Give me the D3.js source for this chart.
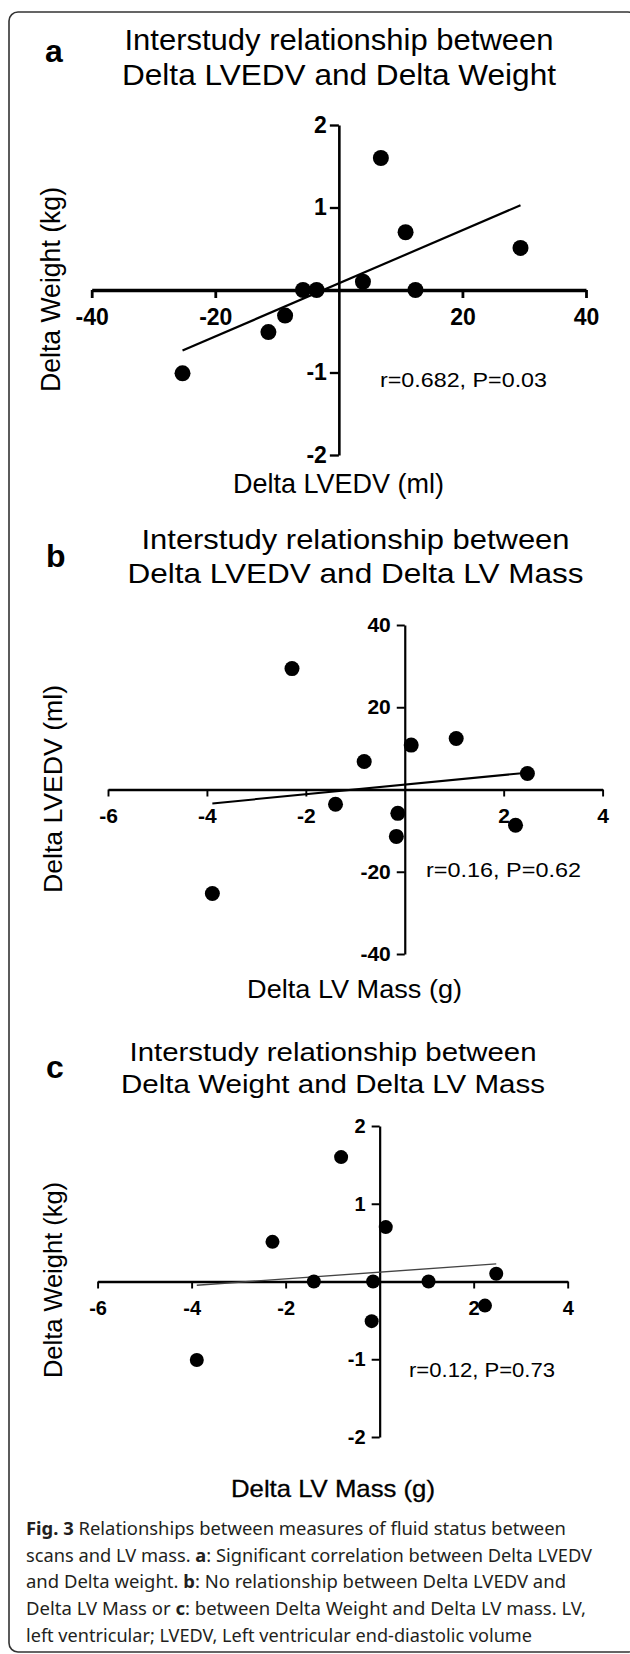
<!DOCTYPE html>
<html>
<head>
<meta charset="utf-8">
<script src="https://cdn.jsdelivr.net/npm/d3@7"></script>
<style>
body { margin: 0; background: #fff; }
svg text { font-family: "Liberation Sans", Arial, sans-serif; fill: #000; }
.caption text { font-family: "Noto Sans", sans-serif; fill: #231f20; }
</style>
</head>
<body>
<svg id="fig"></svg>
<script>
var WIDTH = 630;
var HEIGHT = 1654;

// one entry per subject
var MASS_DELTA   = [-2.28, 0.13, 1.04, -0.82, 2.48, -1.40, -0.14, -0.17, 2.24, -3.89];
var LVEDV_DELTA  = [29.4, 10.8, 12.4, 6.8, 3.9, -3.6, -5.8, -11.4, -8.7, -25.3];
var WEIGHT_DELTA = [0.51, 0.70, 0.0, 1.60, 0.10, 0.0, 0.0, -0.51, -0.31, -1.01];

var LVEDV_TICKS_X = [-40, -20, 20, 40];
var LVEDV_TICKS_Y = [-40, -20, 20, 40];
var WEIGHT_TICKS  = [-2, -1, 1, 2];
var MASS_TICKS    = [-6, -4, -2, 2, 4];

var PANEL_LETTERS = ["a", "b", "c"];
var TITLES = [
    ["Interstudy relationship between", "Delta LVEDV and Delta Weight"],
    ["Interstudy relationship between", "Delta LVEDV and Delta LV Mass"],
    ["Interstudy relationship between", "Delta Weight and Delta LV Mass"]
];
var X_LABELS = ["Delta LVEDV (ml)", "Delta LV Mass (g)", "Delta LV Mass (g)"];
var Y_LABELS = ["Delta Weight (kg)", "Delta LVEDV (ml)", "Delta Weight (kg)"];
var STATS = ["r=0.682, P=0.03", "r=0.16, P=0.62", "r=0.12, P=0.73"];

var svg = d3.select("#fig").attr("width", WIDTH).attr("height", HEIGHT);

// rounded frame round the whole figure
svg.append("rect")
    .attr("x", 9).attr("y", 12)
    .attr("width", 628).attr("height", 1640)
    .attr("rx", 9)
    .attr("fill", "none")
    .attr("stroke", "#333")
    .attr("stroke-width", 1.6);

// layout of each panel (pixels)
var panels = [
    {xs: LVEDV_DELTA, ys: WEIGHT_DELTA, xDomain: [-40, 40], yDomain: [-2, 2],
     xRange: [91.7, 586], yRange: [455, 125], xTicks: LVEDV_TICKS_X, yTicks: WEIGHT_TICKS,
     xAxisW: 3.5, yAxisW: 2.6, tick: 8, tickFont: 23, xLabOff: 35, yLabOff: 12, r: 8, lineW: 2.2,
     letter: [45, 62], title: [339, 50, 85, 30, 429, 434],
     xLab: [338.5, 493, 28, 211], yLab: [60, 289.5, 27, 205], stat: [380, 387, 21, 167]},
    {xs: MASS_DELTA, ys: LVEDV_DELTA, xDomain: [-6, 4], yDomain: [-40, 40],
     xRange: [108, 602.6], yRange: [954, 625], xTicks: MASS_TICKS, yTicks: LVEDV_TICKS_Y,
     xAxisW: 2.4, yAxisW: 2.2, tick: 7, tickFont: 21, xLabOff: 33, yLabOff: 14, r: 7.5, lineW: 2,
     letter: [46, 567], title: [355.5, 549, 583, 28, 428, 456],
     xLab: [354.6, 998, 26, 215], yLab: [62, 789, 26, 208], stat: [426, 877, 21, 155]},
    {xs: MASS_DELTA, ys: WEIGHT_DELTA, xDomain: [-6, 4], yDomain: [-2, 2],
     xRange: [97.6, 567.7], yRange: [1437, 1126], xTicks: MASS_TICKS, yTicks: WEIGHT_TICKS,
     xAxisW: 2.4, yAxisW: 2.2, tick: 7, tickFont: 20, xLabOff: 33, yLabOff: 14, r: 7, lineW: 1.4,
     letter: [46, 1078], title: [333, 1061, 1093, 26, 407, 424],
     xLab: [333, 1497, 24, 204], yLab: [62, 1280, 25, 196], stat: [409, 1377, 21, 146]}
];

var plainNumber = function(d) { return String(d); };

function fit(xs, ys) {
    var mx = d3.mean(xs), my = d3.mean(ys);
    var sxy = d3.sum(xs, function(v, i) { return (v - mx) * (ys[i] - my); });
    var sxx = d3.sum(xs, function(v) { return (v - mx) * (v - mx); });
    var b = sxy / sxx;
    return [b, my - b * mx];
}

panels.forEach(function(p, k) {
    var g = svg.append("g");
    var x = d3.scaleLinear().domain(p.xDomain).range(p.xRange);
    var y = d3.scaleLinear().domain(p.yDomain).range(p.yRange);

    // panel letter
    g.append("text")
        .text(PANEL_LETTERS[k])
        .attr("x", p.letter[0])
        .attr("y", p.letter[1])
        .attr("font-size", 32)
        .attr("font-weight", "bold");

    // two-line title
    TITLES[k].forEach(function(t, i) {
        g.append("text")
            .text(t)
            .attr("x", p.title[0])
            .attr("y", p.title[1 + i])
            .attr("text-anchor", "middle")
            .attr("font-size", p.title[3])
            .attr("textLength", p.title[4 + i])
            .attr("lengthAdjust", "spacingAndGlyphs");
    });

    // x axis through y = 0
    var xa = g.append("g")
        .attr("transform", "translate(0," + y(0) + ")")
        .call(d3.axisBottom(x).tickValues(p.xTicks).tickFormat(plainNumber)
            .tickSize(p.tick).tickSizeOuter(0));
    xa.select(".domain").attr("stroke-width", p.xAxisW);
    xa.selectAll(".tick line").attr("stroke-width", p.xAxisW * 0.8);
    xa.selectAll("text")
        .attr("y", p.xLabOff).attr("dy", null)
        .attr("font-family", "Liberation Sans, Arial, sans-serif")
        .attr("font-size", p.tickFont)
        .attr("font-weight", "bold");

    // y axis through x = 0
    var ya = g.append("g")
        .attr("transform", "translate(" + x(0) + ",0)")
        .call(d3.axisLeft(y).tickValues(p.yTicks).tickFormat(plainNumber)
            .tickSize(p.tick + 1).tickSizeOuter(0));
    ya.select(".domain").attr("stroke-width", p.yAxisW);
    ya.selectAll(".tick line").attr("stroke-width", p.yAxisW * 0.9);
    ya.selectAll("text")
        .attr("x", -p.yLabOff)
        .attr("font-family", "Liberation Sans, Arial, sans-serif")
        .attr("font-size", p.tickFont)
        .attr("font-weight", "bold");

    // regression line over the range of the data
    var ab = fit(p.xs, p.ys);
    var x0 = d3.min(p.xs), x1 = d3.max(p.xs);
    g.append("line")
        .attr("x1", x(x0)).attr("y1", y(ab[0] * x0 + ab[1]))
        .attr("x2", x(x1)).attr("y2", y(ab[0] * x1 + ab[1]))
        .attr("stroke", k == 2 ? "#444" : "#000")
        .attr("stroke-width", p.lineW);

    // points
    g.selectAll("circle")
        .data(p.xs)
        .enter()
        .append("circle")
        .attr("cx", function(d) { return x(d); })
        .attr("cy", function(d, i) { return y(p.ys[i]); })
        .attr("r", p.r)
        .attr("fill", "#000");

    // axis titles
    g.append("text")
        .text(X_LABELS[k])
        .attr("x", p.xLab[0])
        .attr("y", p.xLab[1])
        .attr("text-anchor", "middle")
        .attr("font-size", p.xLab[2])
        .attr("textLength", p.xLab[3])
        .attr("lengthAdjust", "spacingAndGlyphs")
        .attr("stroke", k == 2 ? "#000" : "none")
        .attr("stroke-width", 0.3);

    g.append("text")
        .text(Y_LABELS[k])
        .attr("x", p.yLab[0])
        .attr("y", p.yLab[1])
        .attr("transform", "rotate(-90," + p.yLab[0] + "," + p.yLab[1] + ")")
        .attr("text-anchor", "middle")
        .attr("font-size", p.yLab[2])
        .attr("textLength", p.yLab[3])
        .attr("lengthAdjust", "spacingAndGlyphs");

    g.append("text")
        .text(STATS[k])
        .attr("x", p.stat[0])
        .attr("y", p.stat[1])
        .attr("font-size", p.stat[2])
        .attr("textLength", p.stat[3])
        .attr("lengthAdjust", "spacingAndGlyphs");
});

// caption: each line is a list of [text, bold]
var CAPTION = [
    [["Fig. 3", true], [" Relationships between measures of fluid status between", false]],
    [["scans and LV mass. ", false], ["a", true], [": Significant correlation between Delta LVEDV", false]],
    [["and Delta weight. ", false], ["b", true], [": No relationship between Delta LVEDV and", false]],
    [["Delta LV Mass or ", false], ["c", true], [": between Delta Weight and Delta LV mass. LV,", false]],
    [["left ventricular; LVEDV, Left ventricular end-diastolic volume", false]]
];
var CAPTION_WIDTHS = [540, 566, 540, 560, 506];

var cap = svg.append("g").attr("class", "caption");
CAPTION.forEach(function(line, i) {
    var t = cap.append("text")
        .attr("x", 26)
        .attr("y", 1535 + i * 26.7)
        .attr("font-size", 17.5)
        .attr("textLength", CAPTION_WIDTHS[i])
        .attr("lengthAdjust", "spacingAndGlyphs");
    line.forEach(function(part) {
        t.append("tspan")
            .text(part[0])
            .attr("font-weight", part[1] ? "bold" : null);
    });
});
</script>
</body>
</html>
